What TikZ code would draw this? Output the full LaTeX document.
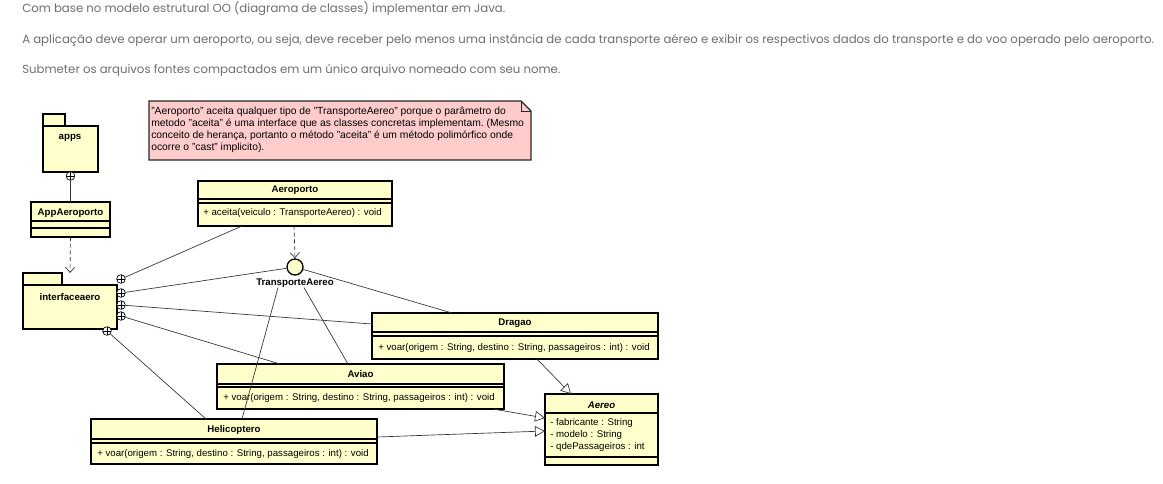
\documentclass[tikz,border=0pt]{standalone}
\usepackage{fontspec}
\setmainfont{Liberation Sans}
\newfontfamily\popfont{Poppins}
\usetikzlibrary{arrows.meta,calc}
\definecolor{umlfill}{HTML}{FFFFCC}
\definecolor{notefill}{HTML}{FFCCCC}
\definecolor{toptext}{HTML}{6E6E6E}
\begin{document}
\begin{tikzpicture}[x=0.75pt,y=-0.75pt,
  box/.style={draw=black, line width=1pt, fill=umlfill, inner sep=0pt, outer sep=0pt, anchor=north west},
  sepline/.style={draw=black, line width=0.8pt},
  cname/.style={font=\fontsize{7.25}{8}\selectfont\bfseries, inner sep=0pt},
  member/.style={font=\fontsize{7.25}{8}\selectfont, inner sep=0pt, anchor=west},
  conn/.style={draw=black!80, line width=0.5pt},
  cplus/.style={circle, draw=black, line width=0.5pt, fill=white, minimum size=6.5pt, inner sep=0pt,
    path picture={\draw[line width=0.5pt] (path picture bounding box.north) -- (path picture bounding box.south)
      (path picture bounding box.west) -- (path picture bounding box.east);}},
  gen/.style={conn, -{Triangle[open, length=7.5pt, width=8pt, fill=white]}},
  dep/.style={conn, dash pattern=on 3pt off 2pt, -{Straight Barb[length=4pt, width=7pt]}},
  toptxt/.style={font=\popfont\fontsize{8.8}{10}\selectfont, text=toptext, anchor=base west, inner sep=0pt},
  notebox/.style={draw=black!85, line width=0.8pt, fill=notefill}
]
\useasboundingbox (0,0) rectangle (1163,483);

% top text
\node[toptxt] (t1) at (22,12) {Com base no modelo estrutural OO (diagrama de classes) implementar em Java.};
\node[toptxt] (t2) at (22,43) {A aplicação deve operar um aeroporto, ou seja, deve receber pelo menos uma instância de cada transporte aéreo e exibir os respectivos dados do transporte e do voo operado pelo aeroporto.};
\node[toptxt] (t3) at (22,73) {Submeter os arquivos fontes compactados em um único arquivo nomeado com seu nome.};

% note
\node[inner sep=0pt, outer sep=0pt, anchor=north west, minimum width=286.5pt, minimum height=44.25pt] (note) at (149,101) {};
\draw[notebox] (note.north west) -- ($(note.north east)+(-10,0)$) -- ($(note.north east)+(0,10)$) -- (note.south east) -- (note.south west) -- cycle;
\draw[draw=black!85, line width=0.5pt] ($(note.north east)+(-10,0)$) -- ($(note.north east)+(-10,10)$) -- ($(note.north east)+(0,10)$);
\node[anchor=north west, inner sep=0pt, align=left, font=\fontsize{7.75}{9}\selectfont\frenchspacing] (notetxt) at (151,106.5)
 {"Aeroporto" aceita qualquer tipo de "TransporteAereo" porque o parâmetro do\\
  metodo "aceita" é uma interface que as classes concretas implementam. (Mesmo\\
  conceito de herança, portanto o método "aceita" é um método polimórfico onde\\
  ocorre o "cast" implicito).};

% package apps
\node[box, minimum width=16.5pt, minimum height=9pt] (appstab) at (43,114) {};
\node[box, minimum width=41.25pt, minimum height=34.5pt] (apps) at (43,126) {};
\node[cname] (appsname) at (70,138) {apps};
\node[cplus] (appsplus) at (70.5,176) {};

% AppAeroporto
\node[box, minimum width=59.25pt, minimum height=26.25pt] (app) at (31,202) {};
\draw[sepline] ($(app.north west)+(0,19)$) -- ($(app.north east)+(0,19)$);
\draw[sepline] ($(app.north west)+(0,26)$) -- ($(app.north east)+(0,26)$);
\node[cname] (appname) at ($(app.north)+(0,11)$) {AppAeroporto};

% package interfaceaero
\node[box, minimum width=29.25pt, minimum height=9pt] (ifacetab) at (23,273) {};
\node[box, minimum width=70.5pt, minimum height=33pt] (iface) at (23,285) {};
\node[cname] (ifacename) at (70,297) {interfaceaero};
\node[cplus] (p1) at (121,279) {};
\node[cplus] (p2) at (121,293) {};
\node[cplus] (p3) at (121,305) {};
\node[cplus] (p4) at (121,316) {};
\node[cplus] (p5) at (107,331) {};

% Aeroporto
\node[box, minimum width=145.5pt, minimum height=33.75pt] (aero) at (198,181) {};
\draw[sepline] ($(aero.north west)+(0,18)$) -- ($(aero.north east)+(0,18)$);
\draw[sepline] ($(aero.north west)+(0,22)$) -- ($(aero.north east)+(0,22)$);
\node[cname] (aeroname) at ($(aero.north)+(0,9)$) {Aeroporto};
\node[member] (aeroop) at ($(aero.north west)+(5,32)$) {+ aceita(veiculo : TransporteAereo) : void};

% interface TransporteAereo
\node[circle, draw=black, line width=1pt, fill=umlfill, minimum size=12pt, inner sep=0pt] (ta) at (295,267) {};
\node[cname] (talabel) at (295,283) {TransporteAereo};

% Dragao
\node[box, minimum width=214.5pt, minimum height=34.5pt] (dragao) at (372,313) {};
\draw[sepline] ($(dragao.north west)+(0,19)$) -- ($(dragao.north east)+(0,19)$);
\draw[sepline] ($(dragao.north west)+(0,23)$) -- ($(dragao.north east)+(0,23)$);
\node[cname] (dragaoname) at ($(dragao.north)+(0,10)$) {Dragao};
\node[member] (dragaoop) at ($(dragao.north west)+(6,35)$) {+ voar(origem : String, destino : String, passageiros : int) : void};

% Aviao
\node[box, minimum width=215.25pt, minimum height=33.75pt] (aviao) at (217,364) {};
\draw[sepline] ($(aviao.north west)+(0,20)$) -- ($(aviao.north east)+(0,20)$);
\draw[sepline] ($(aviao.north west)+(0,23)$) -- ($(aviao.north east)+(0,23)$);
\node[cname] (aviaoname) at ($(aviao.north)+(0,10)$) {Aviao};
\node[member] (aviaoop) at ($(aviao.north west)+(6,34)$) {+ voar(origem : String, destino : String, passageiros : int) : void};

% Helicoptero
\node[box, minimum width=214.5pt, minimum height=33.75pt] (helico) at (91,419) {};
\draw[sepline] ($(helico.north west)+(0,20)$) -- ($(helico.north east)+(0,20)$);
\draw[sepline] ($(helico.north west)+(0,24)$) -- ($(helico.north east)+(0,24)$);
\node[cname] (heliconame) at ($(helico.north)+(0,11)$) {Helicoptero};
\node[member] (helicoop) at ($(helico.north west)+(6,35)$) {+ voar(origem : String, destino : String, passageiros : int) : void};

% Aereo
\node[box, minimum width=84.75pt, minimum height=53.25pt] (aereo) at (545,394) {};
\draw[sepline] ($(aereo.north west)+(0,19)$) -- ($(aereo.north east)+(0,19)$);
\draw[sepline] ($(aereo.north west)+(0,63)$) -- ($(aereo.north east)+(0,63)$);
\node[cname, font=\fontsize{7.25}{8}\selectfont\bfseries\itshape] (aereoname) at ($(aereo.north)+(0,11)$) {Aereo};
\node[member] (aereoa1) at ($(aereo.north west)+(5,29)$) {- fabricante : String};
\node[member] (aereoa2) at ($(aereo.north west)+(5,41)$) {- modelo : String};
\node[member] (aereoa3) at ($(aereo.north west)+(5,53)$) {- qdePassageiros : int};

% connectors
\draw[conn] (appsplus) -- (app.north);
\draw[dep] (app.south) -- ($(iface.north west)+(47,-12)$);
\draw[dep] ($(aero.south west)+(96,0)$) -- (ta.north);
\draw[conn] (p1) -- ($(aero.south west)+(44,0)$);
\draw[conn] (p2) -- (ta);
\draw[conn] (p3) -- ($(dragao.north west)+(0,11)$);
\draw[conn] (p4) -- ($(aviao.north west)+(63,0)$);
\draw[conn] (p5) -- ($(helico.north west)+(115,0)$);
\draw[conn] (ta) -- ($(dragao.north west)+(80,0)$);
\draw[conn] ($(talabel.south)+(-17,0)$) -- ($(helico.north west)+(151,0)$);
\draw[conn] ($(talabel.south)+(9,0)$) -- ($(aviao.north west)+(131,0)$);
\draw[gen] ($(dragao.south west)+(165,0)$) -- ($(aereo.north west)+(26,0)$);
\draw[gen] ($(aviao.south east)+(-11,0)$) -- ($(aereo.north west)+(0,24)$);
\draw[gen] ($(helico.north east)+(0,18)$) -- ($(aereo.north west)+(0,37)$);
\end{tikzpicture}
\end{document}
